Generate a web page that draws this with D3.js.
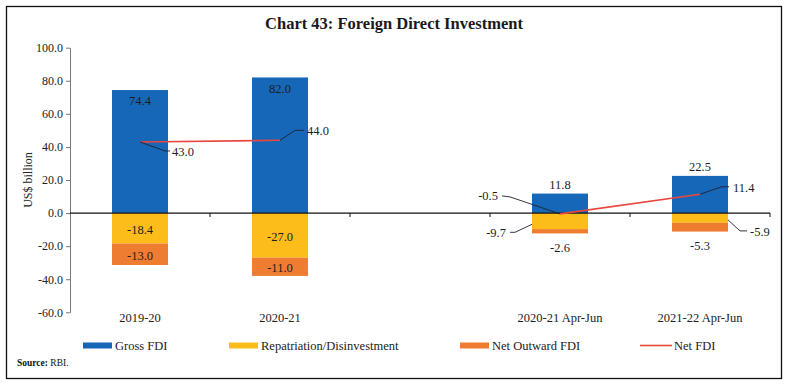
<!DOCTYPE html>
<html>
<head>
<meta charset="utf-8">
<script src="https://cdn.jsdelivr.net/npm/d3@7"></script>
<style>
  body { margin: 0; background: #fff; }
  svg text { font-family: "Liberation Serif", "DejaVu Serif", serif; }
</style>
</head>
<body>
<div id="chart"></div>
<script>
// data
const categories = ["2019-20", "2020-21", "", "2020-21 Apr-Jun", "2021-22 Apr-Jun"];
const grossFDI = [74.4, 82.0, null, 11.8, 22.5];
const repatriation = [-18.4, -27.0, null, -9.7, -5.9];
const netOutward = [-13.0, -11.0, null, -2.6, -5.3];
const netFDI = [43.0, 44.0, null, -0.5, 11.4];
const yTicks = [-60, -40, -20, 0, 20, 40, 60, 80, 100];

const W = 788, H = 385;
const COL = { gross: "#1767b8", repat: "#fcbd1b", out: "#ee7d31", net: "#e8473c", text: "#1c1c28" };

const svg = d3.select("#chart").append("svg").attr("width", W).attr("height", H);
svg.append("rect").attr("x", 6.5).attr("y", 6.5).attr("width", 775).attr("height", 372)
    .attr("fill", "#fff").attr("stroke", "#111").attr("stroke-width", 1.3);

svg.append("text").attr("x", 394).attr("y", 29).attr("text-anchor", "middle")
    .attr("font-size", 16.5).attr("font-weight", "bold").attr("fill", "#1a1a1a")
    .text("Chart 43: Foreign Direct Investment");

const x = d3.scaleBand().domain(categories).range([70, 770]).paddingInner(0.6).paddingOuter(0.3);
const y = d3.scaleLinear().domain([-60, 100]).range([312.3, 47.7]);
const cx = i => x(categories[i]) + x.bandwidth() / 2;
const fmt = v => d3.format(".1f")(v).replace("\u2212", "-");

// y axis
const yAxis = svg.append("g").attr("transform", "translate(70,0)")
    .call(d3.axisLeft(y).tickValues(yTicks).tickFormat(fmt).tickSize(4).tickSizeOuter(0));
yAxis.select(".domain").attr("stroke", "#777");
yAxis.selectAll(".tick line").attr("stroke", "#777");
yAxis.selectAll(".tick text").attr("font-size", 12).attr("fill", "#222").attr("font-family", "Liberation Serif");

svg.append("text").attr("transform", `translate(32,${(y(100) + y(-60)) / 2}) rotate(-90)`)
    .attr("text-anchor", "middle").attr("font-size", 12).attr("fill", "#222").text("US$ billion");

// bars
const idx = d3.range(categories.length).filter(i => grossFDI[i] != null);
const bars = svg.append("g");
idx.forEach(i => {
    const bx = x(categories[i]), bw = x.bandwidth();
    bars.append("rect").attr("x", bx).attr("width", bw)
        .attr("y", y(grossFDI[i])).attr("height", y(0) - y(grossFDI[i])).attr("fill", COL.gross);
    bars.append("rect").attr("x", bx).attr("width", bw)
        .attr("y", y(0)).attr("height", y(repatriation[i]) - y(0)).attr("fill", COL.repat);
    const b0 = repatriation[i], b1 = repatriation[i] + netOutward[i];
    bars.append("rect").attr("x", bx).attr("width", bw)
        .attr("y", y(b0)).attr("height", y(b1) - y(b0)).attr("fill", COL.out);
});

// zero line with category ticks
svg.append("line").attr("x1", 70).attr("x2", 770).attr("y1", y(0)).attr("y2", y(0))
    .attr("stroke", "#111").attr("stroke-width", 1.2);
const bounds = categories.map(c => x(c) - x.step() * 0.3).concat([770]);
svg.append("g").selectAll("line").data(bounds.slice(1)).join("line")
    .attr("x1", d => d).attr("x2", d => d).attr("y1", y(0)).attr("y2", y(0) + 4)
    .attr("stroke", "#111");

// net FDI line (broken at the empty category)
const netLine = d3.line().defined(i => netFDI[i] != null).x(i => cx(i)).y(i => y(netFDI[i]));
svg.append("path").attr("d", netLine(d3.range(categories.length))).attr("fill", "none")
    .attr("stroke", COL.net).attr("stroke-width", 1.6);

// labels
const lab = svg.append("g").attr("font-size", 12.5).attr("fill", COL.text);
function label(px, py, t, anchor) {
    lab.append("text").attr("x", px).attr("y", py).attr("dy", "0.35em")
        .attr("text-anchor", anchor || "middle").text(t);
}
function leader(pts) {
    svg.append("path").attr("d", d3.line()(pts)).attr("fill", "none")
        .attr("stroke", "#1c2030").attr("stroke-width", 0.9);
}

idx.forEach(i => {
    const c = cx(i);
    if (grossFDI[i] > 40) label(c, y(grossFDI[i]) + 11, fmt(grossFDI[i]));
    else label(c, y(grossFDI[i]) - 9, fmt(grossFDI[i]));
    const r0 = y(0), r1 = y(repatriation[i]), o1 = y(repatriation[i] + netOutward[i]);
    if (r1 - r0 > 20) {
        label(c, (r0 + r1) / 2 + 1, fmt(repatriation[i]));
        label(c, (r1 + o1) / 2 + 1, fmt(netOutward[i]));
    } else {
        label(c, o1 + 14, fmt(netOutward[i]));
    }
});

// leader-line labels
const p1 = [cx(0), y(netFDI[0])];
leader([p1, [p1[0] + 25, p1[1] + 9], [p1[0] + 30, p1[1] + 9]]);
label(p1[0] + 32, p1[1] + 10, fmt(netFDI[0]), "start");

const p2 = [cx(1), y(netFDI[1])];
leader([p2, [p2[0] + 15, p2[1] - 10], [p2[0] + 24, p2[1] - 10]]);
label(p2[0] + 27, p2[1] - 10, fmt(netFDI[1]), "start");

const p3 = [cx(3), y(netFDI[3])];
leader([p3, [p3[0] - 50, p3[1] - 17], [p3[0] - 58, p3[1] - 18]]);
label(p3[0] - 62, p3[1] - 18, fmt(netFDI[3]), "end");

const p4 = [cx(4), y(netFDI[4])];
leader([p4, [p4[0] + 22, p4[1] - 7.5], [p4[0] + 29, p4[1] - 7.5]]);
label(p4[0] + 33, p4[1] - 6.5, fmt(netFDI[4]), "start");

const q3 = [x(categories[3]), y(repatriation[3] * 0.7)];
leader([q3, [q3[0] - 17, q3[1] + 8], [q3[0] - 22, q3[1] + 8]]);
label(q3[0] - 26, q3[1] + 8.5, fmt(repatriation[3]), "end");

const q4 = [x(categories[4]) + x.bandwidth(), y(repatriation[4] * 0.7)];
leader([q4, [q4[0] + 12, q4[1] + 11], [q4[0] + 19, q4[1] + 11]]);
label(q4[0] + 22, q4[1] + 11.5, fmt(repatriation[4]), "start");

// x labels
svg.append("g").selectAll("text").data(idx).join("text")
    .attr("x", i => cx(i)).attr("y", 318).attr("dy", "0.35em").attr("text-anchor", "middle")
    .attr("font-size", 12.5).attr("fill", "#222").text(i => categories[i]);

// legend
const legend = [
    { name: "Gross FDI", color: COL.gross, x: 83, type: "bar" },
    { name: "Repatriation/Disinvestment", color: COL.repat, x: 229, type: "bar" },
    { name: "Net Outward FDI", color: COL.out, x: 460, type: "bar" },
    { name: "Net FDI", color: COL.net, x: 640, type: "line" }
];
const lg = svg.append("g");
legend.forEach(d => {
    if (d.type === "bar") lg.append("rect").attr("x", d.x).attr("y", 342.5).attr("width", 29).attr("height", 6).attr("fill", d.color);
    else lg.append("line").attr("x1", d.x).attr("x2", d.x + 32).attr("y1", 345.5).attr("y2", 345.5).attr("stroke", d.color).attr("stroke-width", 1.6);
    lg.append("text").attr("x", d.x + (d.type === "bar" ? 32 : 34)).attr("y", 345.5).attr("dy", "0.35em")
        .attr("font-size", 12.5).attr("fill", "#222").text(d.name);
});

const src = svg.append("text").attr("x", 17).attr("y", 366).attr("font-size", 9.5).attr("fill", "#111");
src.append("tspan").attr("font-weight", "bold").text("Source:");
src.append("tspan").text(" RBI.");
</script>
</body>
</html>
